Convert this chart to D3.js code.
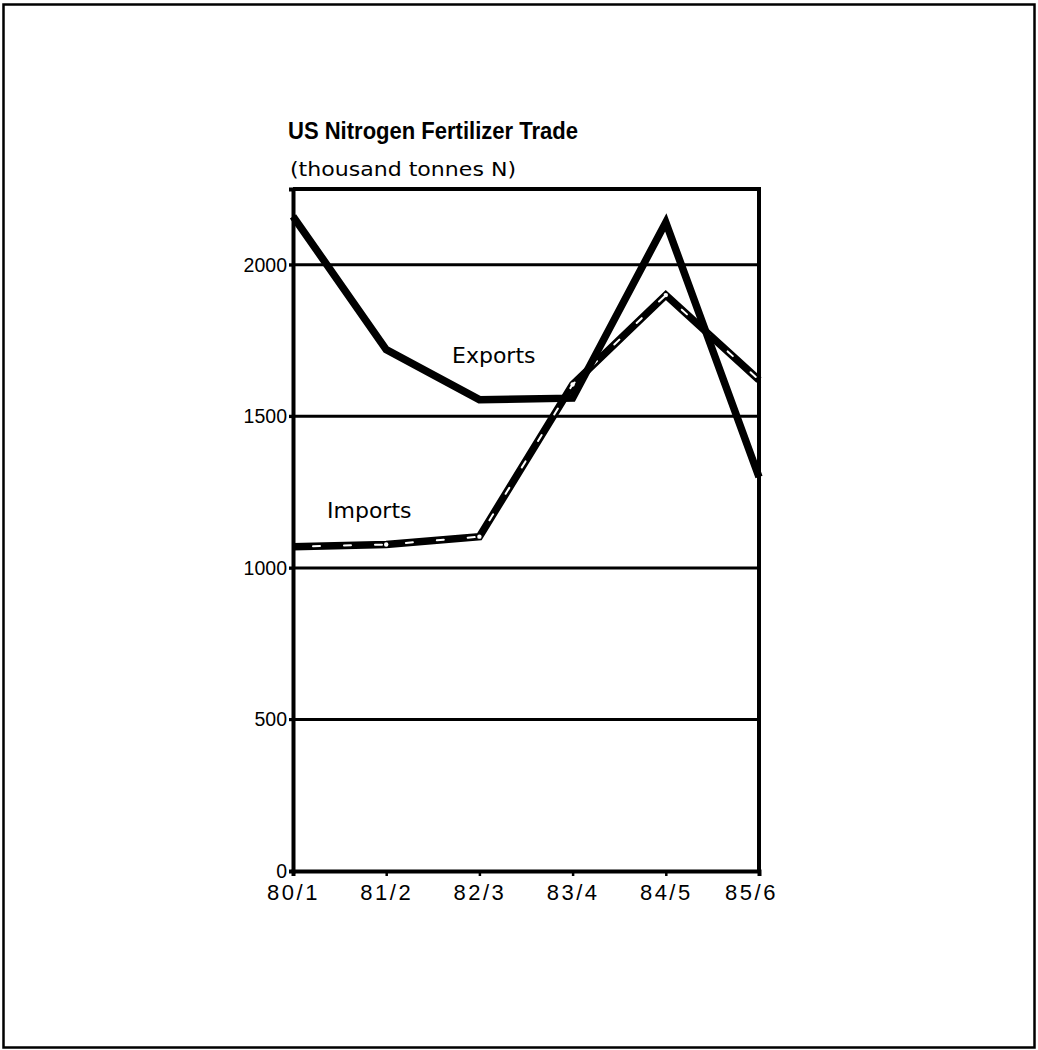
<!DOCTYPE html>
<html>
<head>
<meta charset="utf-8">
<script src="https://cdn.jsdelivr.net/npm/d3@7"></script>
<style>
  body { margin: 0; background: #fff; }
  svg { display: block; }
</style>
</head>
<body>
<div id="chart-area"></div>
<script>

// chart data
var years = ["80/1", "81/2", "82/3", "83/4", "84/5", "85/6"];
var exportsN = [2160, 1720, 1555, 1560, 2140, 1300];
var importsN = [1070, 1077, 1103, 1605, 1900, 1620];
var yTicks = [0, 500, 1000, 1500, 2000];
var yMax = 2250;

var width = 1038,
	height = 1050;

var plot = {left: 293, right: 759, top: 189, bottom: 871};

var svg = d3.select("#chart-area")
	.append("svg")
	.attr("width", width)
	.attr("height", height);

// outer page border
svg.append("rect")
	.attr("x", 3.5).attr("y", 4.5)
	.attr("width", 1031).attr("height", 1043)
	.attr("fill", "none")
	.attr("stroke", "#000")
	.attr("stroke-width", 2.5);

var x = d3.scalePoint()
	.domain(years)
	.range([plot.left, plot.right]);

var y = d3.scaleLinear()
	.domain([0, yMax])
	.range([plot.bottom, plot.top]);

// titles
svg.append("text")
	.attr("x", 288).attr("y", 139)
	.attr("font-family", "Liberation Sans, Arial, sans-serif")
	.attr("font-weight", "bold")
	.attr("font-size", 24)
	.attr("textLength", 290)
	.attr("lengthAdjust", "spacingAndGlyphs")
	.text("US Nitrogen Fertilizer Trade");

svg.append("text")
	.attr("x", 290).attr("y", 176)
	.attr("font-family", "DejaVu Sans, sans-serif")
	.attr("font-size", 19.5)
	.attr("textLength", 226)
	.attr("lengthAdjust", "spacingAndGlyphs")
	.text("(thousand tonnes N)");

// gridlines
svg.append("g").selectAll("line")
	.data(yTicks.filter(function (d) { return d > 0; }))
	.enter().append("line")
	.attr("x1", plot.left - 4)
	.attr("x2", plot.right)
	.attr("y1", function (d) { return y(d); })
	.attr("y2", function (d) { return y(d); })
	.attr("stroke", "#000")
	.attr("stroke-width", 3);

// frame top + right
svg.append("path")
	.attr("d", "M" + plot.left + "," + y(yMax) + "H" + plot.right + "V" + plot.bottom)
	.attr("fill", "none")
	.attr("stroke", "#000")
	.attr("stroke-width", 4);

// axes
var xAxis = d3.axisBottom(x).tickSize(5).tickPadding(8);
var yAxis = d3.axisLeft(y).tickValues(yTicks).tickFormat(d3.format("d")).tickSize(4).tickPadding(2);

var gx = svg.append("g")
	.attr("transform", "translate(0," + plot.bottom + ")")
	.call(xAxis);

var gy = svg.append("g")
	.attr("transform", "translate(" + plot.left + ",0)")
	.call(yAxis);

[gx, gy].forEach(function (g) {
	g.select(".domain").attr("stroke", "#000").attr("stroke-width", 4);
	g.selectAll(".tick line").attr("stroke", "#000").attr("stroke-width", 2.5);
});

gx.selectAll(".tick text")
	.attr("font-family", "Liberation Sans, Arial, sans-serif")
	.attr("font-size", 22)
	.attr("letter-spacing", 2.5)
	.attr("fill", "#000");

// last label sits a little inside the frame
gx.selectAll(".tick text").filter(function (d) { return d === "85/6"; })
	.attr("dx", -8);

gy.selectAll(".tick text")
	.attr("font-family", "Liberation Sans, Arial, sans-serif")
	.attr("font-size", 19.5)
	.attr("fill", "#000");

// series lines
var line = d3.line()
	.x(function (d, i) { return x(years[i]); })
	.y(function (d) { return y(d); });

svg.append("path")
	.datum(importsN)
	.attr("d", line)
	.attr("fill", "none")
	.attr("stroke", "#000")
	.attr("stroke-width", 7.5)
	.attr("stroke-linejoin", "miter");

// white flecks running through the imports line
svg.append("path")
	.datum(importsN)
	.attr("d", line)
	.attr("fill", "none")
	.attr("stroke", "#fff")
	.attr("stroke-width", 2)
	.attr("stroke-linecap", "round")
	.attr("stroke-dasharray", "7,24")
	.attr("stroke-dashoffset", -20);

// small white point marks at the inner imports vertices
svg.append("g").selectAll("circle")
	.data(importsN.slice(1, 5))
	.enter().append("circle")
	.attr("cx", function (d, i) { return x(years[i + 1]); })
	.attr("cy", function (d) { return y(d); })
	.attr("r", 2.2)
	.attr("fill", "#fff");

svg.append("path")
	.datum(exportsN)
	.attr("d", line)
	.attr("fill", "none")
	.attr("stroke", "#000")
	.attr("stroke-width", 7.5)
	.attr("stroke-linejoin", "miter");

// series labels
svg.append("text")
	.attr("x", 452).attr("y", 363)
	.attr("font-family", "DejaVu Sans, sans-serif")
	.attr("font-size", 22)
	.text("Exports");

svg.append("text")
	.attr("x", 327).attr("y", 518)
	.attr("font-family", "DejaVu Sans, sans-serif")
	.attr("font-size", 22)
	.text("Imports");

</script>
</body>
</html>
